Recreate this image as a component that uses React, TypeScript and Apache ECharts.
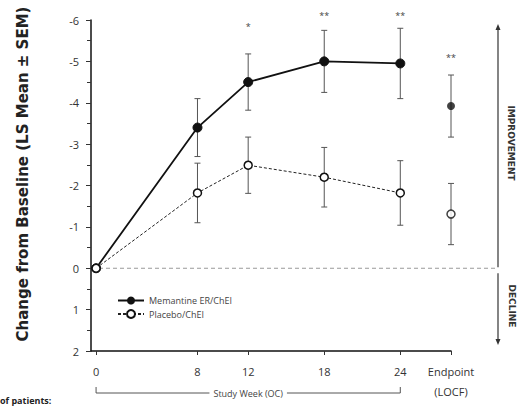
import React, { useEffect, useRef } from "react";
import * as echarts from "echarts";

const weeks = [0, 8, 12, 18, 24];
const memantineMean = [0, -3.4, -4.5, -5.0, -4.95];
const memantineSem = [0, 0.7, 0.68, 0.75, 0.85];
const placeboMean = [0, -1.82, -2.49, -2.2, -1.82];
const placeboSem = [0, 0.72, 0.68, 0.72, 0.78];
const endpointX = 28;
const memantineEndpoint = -3.92;
const memantineEndpointSem = 0.75;
const placeboEndpoint = -1.31;
const placeboEndpointSem = 0.74;
const sigX = [12, 18, 24, 28];
const sigY = [-5.85, -6.1, -6.1, -5.1];
const sigLabels = ["*", "**", "**", "**"];
const xTickValues = [0, 8, 12, 18, 24, 28];
const seriesNames = ["Memantine ER/ChEI", "Placebo/ChEI"];

const FONT = "Open Sans";

function errRows(xs: number[], means: number[], sems: number[]) {
  return xs
    .map((x, i) => [x, means[i] - sems[i], means[i] + sems[i]])
    .filter((r, i) => sems[i] > 0);
}

const errorRender = (params: any, api: any) => {
  const x = api.value(0);
  const p1 = api.coord([x, api.value(1)]);
  const p2 = api.coord([x, api.value(2)]);
  const w = 3;
  const st = { stroke: "#555", lineWidth: 1 };
  return {
    type: "group",
    children: [
      { type: "line", shape: { x1: p1[0], y1: p1[1], x2: p2[0], y2: p2[1] }, style: st },
      { type: "line", shape: { x1: p1[0] - w, y1: p1[1], x2: p1[0] + w, y2: p1[1] }, style: st },
      { type: "line", shape: { x1: p2[0] - w, y1: p2[1], x2: p2[0] + w, y2: p2[1] }, style: st },
    ],
  };
};

export default function App() {
  const ref = useRef<HTMLDivElement>(null);
  useEffect(() => {
    if (!ref.current) return;
    const chart = echarts.init(ref.current, null, { renderer: "svg" });
    const errData = [
      ...errRows(weeks, memantineMean, memantineSem),
      ...errRows(weeks, placeboMean, placeboSem),
      [endpointX, memantineEndpoint - memantineEndpointSem, memantineEndpoint + memantineEndpointSem],
      [endpointX, placeboEndpoint - placeboEndpointSem, placeboEndpoint + placeboEndpointSem],
    ];
    const option: any = {
      animation: false,
      grid: { left: 91, right: 71, top: 20, bottom: 57 },
      legend: {
        data: seriesNames,
        orient: "vertical",
        left: 112,
        top: 291,
        itemWidth: 26,
        itemHeight: 10,
        itemGap: 4,
        textStyle: { fontFamily: FONT, fontSize: 9, color: "#444" },
      },
      xAxis: {
        type: "value",
        min: -0.4,
        max: 28,
        splitLine: { show: false },
        axisLine: { onZero: false, lineStyle: { color: "#111", width: 1.5 } },
        axisTick: { customValues: xTickValues, length: 4, lineStyle: { color: "#333" } },
        axisLabel: {
          customValues: xTickValues,
          formatter: (v: number) => (v === 28 ? "Endpoint\n(LOCF)" : String(v)),
          fontFamily: FONT,
          fontSize: 11,
          color: "#333",
          lineHeight: 20,
          margin: 10,
        },
      },
      yAxis: {
        type: "value",
        inverse: true,
        min: -6,
        max: 2,
        interval: 1,
        splitLine: { show: false },
        axisLine: { show: true, onZero: false, lineStyle: { color: "#111", width: 1.5 } },
        axisTick: { show: true, length: 5, lineStyle: { color: "#333" } },
        minorTick: { show: true, splitNumber: 2, length: 4, lineStyle: { color: "#333" } },
        axisLabel: { fontFamily: FONT, fontSize: 11, color: "#333", margin: 12 },
      },
      series: [
        {
          type: "custom",
          name: "err",
          renderItem: errorRender,
          data: errData,
          z: 1,
          clip: false,
          silent: true,
        },
        {
          type: "line",
          name: seriesNames[0],
          data: weeks.map((w, i) => [w, memantineMean[i]]),
          symbol: "circle",
          symbolSize: 9,
          lineStyle: { color: "#111", width: 1.8 },
          itemStyle: { color: "#111", borderColor: "#111" },
          z: 3,
        },
        {
          type: "line",
          name: seriesNames[1],
          data: weeks.map((w, i) => [w, placeboMean[i]]),
          symbol: "circle",
          symbolSize: 8,
          lineStyle: { color: "#222", width: 1, type: [3, 2] },
          itemStyle: { color: "#fff", borderColor: "#111", borderWidth: 1.5 },
          z: 3,
        },
        {
          type: "scatter",
          name: "mem-end",
          data: [[endpointX, memantineEndpoint]],
          symbol: "circle",
          symbolSize: 8,
          itemStyle: { color: "#111" },
          z: 3,
        },
        {
          type: "scatter",
          name: "pla-end",
          data: [[endpointX, placeboEndpoint]],
          symbol: "circle",
          symbolSize: 8,
          itemStyle: { color: "#fff", borderColor: "#111", borderWidth: 1.5 },
          z: 3,
        },
        {
          type: "custom",
          name: "sig",
          clip: false,
          silent: true,
          data: sigX.map((x, i) => [x, sigY[i], i]),
          renderItem: (params: any, api: any) => {
            const p = api.coord([api.value(0), api.value(1)]);
            return {
              type: "text",
              x: p[0],
              y: p[1],
              style: {
                text: sigLabels[api.value(2)],
                fontSize: 9,
                fontFamily: FONT,
                fill: "#444",
                textAlign: "center",
                textVerticalAlign: "middle",
              },
            };
          },
        },
      ],
    };
    chart.setOption(option);

    const zero = chart.convertToPixel({ gridIndex: 0 }, [0, 0]) as number[];
    const w24 = chart.convertToPixel({ gridIndex: 0 }, [24, 0]) as number[];
    const top = chart.convertToPixel({ gridIndex: 0 }, [0, -6]) as number[];
    const bottom = chart.convertToPixel({ gridIndex: 0 }, [0, 2]) as number[];
    const arrowX = 498;
    const y0 = zero[1];
    const bracketY = 393;
    const lineStyle = { stroke: "#333", lineWidth: 1.2 };
    chart.setOption({
      graphic: [
        {
          type: "line",
          shape: { x1: 92, y1: y0, x2: 495, y2: y0 },
          style: { stroke: "#999", lineWidth: 1, lineDash: [4, 3] },
          z: 0,
        },
        {
          type: "line",
          shape: { x1: arrowX, y1: y0 - 1, x2: arrowX, y2: top[1] + 8 },
          style: lineStyle,
        },
        {
          type: "polygon",
          shape: { points: [[arrowX, top[1] + 4], [arrowX - 2.5, top[1] + 10], [arrowX + 2.5, top[1] + 10]] },
          style: { fill: "#333" },
        },
        {
          type: "line",
          shape: { x1: arrowX, y1: y0 + 5, x2: arrowX, y2: bottom[1] - 10 },
          style: lineStyle,
        },
        {
          type: "polygon",
          shape: { points: [[arrowX, bottom[1] - 6], [arrowX - 2.5, bottom[1] - 12], [arrowX + 2.5, bottom[1] - 12]] },
          style: { fill: "#333" },
        },
        {
          type: "text",
          x: 511,
          y: 143,
          rotation: -Math.PI / 2,
          style: {
            text: "IMPROVEMENT",
            fontFamily: "DejaVu Sans",
            fontSize: 9,
            fontWeight: "bold",
            fill: "#333",
            textAlign: "center",
            textVerticalAlign: "middle",
          },
        },
        {
          type: "text",
          x: 512,
          y: 306,
          rotation: -Math.PI / 2,
          style: {
            text: "DECLINE",
            fontFamily: "DejaVu Sans",
            fontSize: 9,
            fontWeight: "bold",
            fill: "#333",
            textAlign: "center",
            textVerticalAlign: "middle",
          },
        },
        {
          type: "text",
          x: 23,
          y: 174,
          rotation: Math.PI / 2,
          style: {
            text: "Change from Baseline (LS Mean \u00b1 SEM)",
            fontFamily: "DejaVu Sans",
            fontSize: 15,
            fontWeight: "bold",
            fill: "#222",
            textAlign: "center",
            textVerticalAlign: "middle",
          },
        },
        {
          type: "polyline",
          shape: {
            points: [
              [zero[0], bracketY - 6],
              [zero[0], bracketY],
              [w24[0], bracketY],
              [w24[0], bracketY - 6],
            ],
          },
          style: { stroke: "#555", lineWidth: 1, fill: null },
        },
        {
          type: "text",
          x: (zero[0] + w24[0]) / 2,
          y: bracketY,
          style: {
            text: "Study Week (OC)",
            fontFamily: FONT,
            fontSize: 9,
            fill: "#444",
            textAlign: "center",
            textVerticalAlign: "middle",
            backgroundColor: "#fff",
            padding: [0, 4],
          },
        },
        {
          type: "text",
          x: 0,
          y: 396,
          style: {
            text: "of patients:",
            fontFamily: FONT,
            fontSize: 9,
            fontWeight: "bold",
            fill: "#222",
          },
        },
      ],
    });
    return () => chart.dispose();
  }, []);
  return (
    <div
      ref={ref}
      style={{ position: "fixed", left: 0, top: 0, width: 522, height: 408, background: "#fff" }}
    />
  );
}
